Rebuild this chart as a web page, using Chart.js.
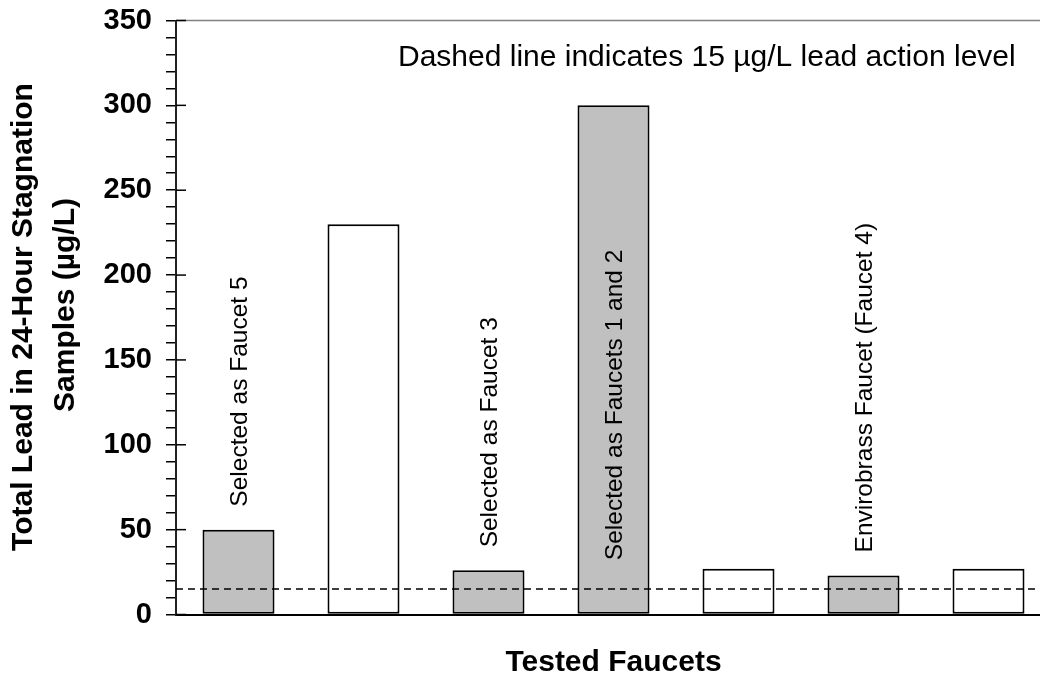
<!DOCTYPE html>
<html>
<head>
<meta charset="utf-8">
<script src="https://cdn.jsdelivr.net/npm/chart.js@4"></script>
<style>
    html, body { margin: 0; padding: 0; background: #fff; overflow: hidden; }
    #wrap { width: 1060px; height: 677px; }
</style>
</head>
<body>
<div id="wrap"><canvas id="lead-chart" width="1060" height="677"></canvas></div>
<script>
// Chart data
const faucets = ['1', '2', '3', '4', '5', '6', '7'];
const leadValues = [50, 230, 26, 300, 27, 23, 27];
const selected = [true, false, true, true, false, true, false];
const barNotes = ['Selected as Faucet 5', '', 'Selected as Faucet 3', 'Selected as Faucets 1 and 2', '', 'Envirobrass Faucet (Faucet 4)', ''];
const actionLevel = 15;
const yMax = 350;
const yMajorStep = 50;
const yMinorStep = 10;

const FONT = '"Liberation Sans", Arial, sans-serif';

// Extra drawing: titles, note text, action level line, frame bits
const decorPlugin = {
    id: 'decor',
    afterDatasetsDraw(chart) {
        const ctx = chart.ctx;
        const area = chart.chartArea;
        const y = chart.scales.y;
        const x = chart.scales.x;

        // dashed action level line
        const yLevel = y.getPixelForValue(actionLevel);
        ctx.save();
        ctx.strokeStyle = '#000';
        ctx.lineWidth = 1.5;
        ctx.setLineDash([7, 5]);
        ctx.beginPath();
        ctx.moveTo(area.left, yLevel);
        ctx.lineTo(area.right, yLevel);
        ctx.stroke();
        ctx.restore();

        // notes over the bars (rotated)
        ctx.save();
        ctx.font = '24.5px ' + FONT;
        ctx.fillStyle = '#000';
        ctx.textBaseline = 'middle';
        barNotes.forEach((note, i) => {
            if (!note) return;
            const cx = x.getPixelForValue(i);
            const top = y.getPixelForValue(leadValues[i]);
            const w = ctx.measureText(note).width;
            ctx.save();
            ctx.translate(cx + 2, 0);
            ctx.rotate(-Math.PI / 2);
            if (top - area.top < w + 30) {
                // no room above, put it inside the bar
                ctx.textAlign = 'right';
                ctx.fillText(note, -y.getPixelForValue(215), 0);
            } else {
                ctx.textAlign = 'left';
                ctx.fillText(note, -(top - 23), 0);
            }
            ctx.restore();
        });
        ctx.restore();
    },
    afterDraw(chart) {
        const ctx = chart.ctx;
        const area = chart.chartArea;
        const y = chart.scales.y;

        // top frame line
        ctx.save();
        ctx.strokeStyle = '#808080';
        ctx.lineWidth = 1.5;
        ctx.beginPath();
        ctx.moveTo(area.left, area.top);
        ctx.lineTo(area.right, area.top);
        ctx.stroke();

        // inner half of the major ticks
        ctx.strokeStyle = '#000';
        ctx.lineWidth = 1.5;
        for (let v = 0; v <= yMax; v += yMajorStep) {
            const py = y.getPixelForValue(v);
            ctx.beginPath();
            ctx.moveTo(area.left, py);
            ctx.lineTo(area.left + 10, py);
            ctx.stroke();
        }
        ctx.restore();

        // annotation text
        ctx.save();
        ctx.fillStyle = '#000';
        ctx.font = '30px ' + FONT;
        ctx.textAlign = 'left';
        ctx.textBaseline = 'alphabetic';
        ctx.fillText('Dashed line indicates 15 \u00b5g/L lead action level', 398, 66);

        // axis titles
        ctx.font = 'bold 30px ' + FONT;
        ctx.textAlign = 'center';
        ctx.textBaseline = 'middle';
        ctx.fillText('Tested Faucets', (area.left + area.right) / 2, 663);

        ctx.save();
        ctx.translate(24, 317);
        ctx.rotate(-Math.PI / 2);
        ctx.fillText('Total Lead in 24-Hour Stagnation', 0, 0);
        ctx.restore();
        ctx.save();
        ctx.translate(66, 305);
        ctx.rotate(-Math.PI / 2);
        ctx.fillText('Samples (\u00b5g/L)', 0, 0);
        ctx.restore();
        ctx.restore();
    }
};

const ctx = document.getElementById('lead-chart').getContext('2d');
const leadChart = new Chart(ctx, {
    type: 'bar',
    data: {
        labels: faucets,
        datasets: [{
            data: leadValues,
            backgroundColor: selected.map(s => s ? '#c0c0c0' : '#ffffff'),
            borderColor: '#000',
            borderWidth: 2,
            borderSkipped: false,
            categoryPercentage: 1,
            barPercentage: 0.576
        }]
    },
    options: {
        responsive: false,
        animation: false,
        events: [],
        layout: { padding: { top: 20.5, right: 9, left: 0, bottom: 0 } },
        plugins: {
            legend: { display: false },
            tooltip: { enabled: false }
        },
        scales: {
            x: {
                grid: { display: false, drawTicks: false },
                border: { display: true, color: '#000', width: 2 },
                ticks: { display: false },
                afterFit(scale) {
                    scale.height = 62.5;
                    scale.paddingLeft = 0;
                    scale.paddingRight = 0;
                }
            },
            y: {
                min: 0,
                max: yMax,
                grid: {
                    drawOnChartArea: false,
                    drawTicks: true,
                    tickLength: 10,
                    color: '#000',
                    lineWidth: 1.5
                },
                border: { display: true, color: '#222', width: 2 },
                ticks: {
                    stepSize: yMinorStep,
                    autoSkip: false,
                    padding: 14,
                    color: '#000',
                    font: { family: FONT, size: 29, weight: 'bold' },
                    callback: v => (v % yMajorStep === 0 ? v : '')
                },
                afterFit(scale) {
                    scale.width = 176;
                    scale.paddingTop = 0;
                    scale.paddingBottom = 0;
                }
            }
        }
    },
    plugins: [decorPlugin]
});
</script>
</body>
</html>
